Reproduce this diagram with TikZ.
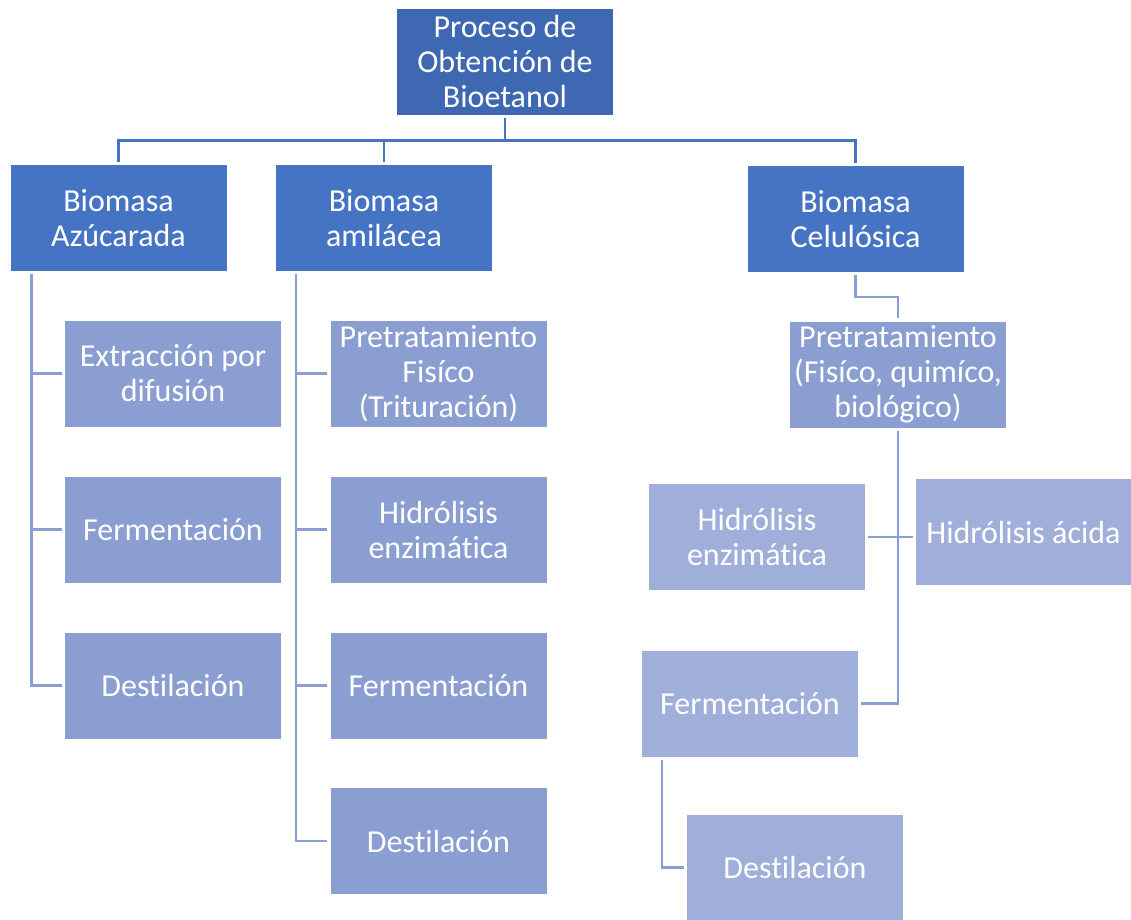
\documentclass[tikz,border=0pt]{standalone}
\usepackage{fontspec}
\setmainfont{Carlito}[Ligatures=NoCommon]
\usetikzlibrary{calc,backgrounds}
\definecolor{topfill}{HTML}{3F68B2}
\definecolor{midfill}{HTML}{4674C4}
\definecolor{lowfill}{HTML}{8A9ED2}
\definecolor{palefill}{HTML}{A0AFDA}
\definecolor{busline}{HTML}{4472C4}
\definecolor{stemline}{HTML}{8A9ED2}
\tikzset{
  box/.style={rectangle, minimum width=216pt, minimum height=106pt, inner sep=0pt,
    align=center, text=white, font=\fontsize{32}{35}\selectfont},
  toplevel/.style={box, fill=topfill},
  midlevel/.style={box, fill=midfill},
  lowlevel/.style={box, fill=lowfill},
  palelevel/.style={box, fill=palefill},
  bus/.style={draw=busline, line width=2.6pt},
  stem/.style={draw=stemline, line width=2.4pt, shorten <=3pt, shorten >=3pt},
}
\begin{document}
\begin{tikzpicture}[x=1pt, y=-1pt]
\useasboundingbox (0,0) rectangle (1131,919);

% top node
\node[toplevel] (top) at (505,62) {Proceso de\\Obtención de\\Bioetanol};

% biomass types
\node[midlevel] (az) at (118.5,218) {Biomasa\\Azúcarada};
\node[midlevel] (am) at (384,218) {Biomasa\\amilácea};
\node[midlevel] (ce) at (855.5,219) {Biomasa\\Celulósica};

% sugar biomass steps
\node[lowlevel] (ex) at (173,373.5) {Extracción por\\difusión};
\node[lowlevel] (fl) at (173,529.5) {Fermentación};
\node[lowlevel] (dl) at (173,685.5) {Destilación};

% starch biomass steps
\node[lowlevel] (pf) at (438.5,373.5) {Pretratamiento\\Fisíco\\(Trituración)};
\node[lowlevel] (hm) at (438.5,529.5) {Hidrólisis\\enzimática};
\node[lowlevel] (fm) at (438.5,685.5) {Fermentación};
\node[lowlevel] (dm) at (438.5,841) {Destilación};

% cellulosic biomass steps
\node[lowlevel] (pr) at (898,374.5) {Pretratamiento\\(Fisíco, quimíco,\\biológico)};
\node[palelevel] (he) at (757,537) {Hidrólisis\\enzimática};
\node[palelevel, minimum width=215pt] (ha) at (1023.5,532) {Hidrólisis ácida};
\node[palelevel] (fr) at (750,703.5) {Fermentación};
\node[palelevel] (dr) at (795,867.5) {Destilación};

\begin{scope}[on background layer]
  % main bus
  \draw[bus, shorten <=3pt] (top.south) -- ++(0,25) coordinate (hub);
  \draw[bus, shorten >=3pt] (hub) -| (az.north);
  \draw[bus, shorten >=3pt] (hub) -| (am.north);
  \draw[bus, shorten >=3pt] (hub) -| (ce.north);

  % sugar biomass branch
  \draw[stem] ($(az.south west)+(21,0)$) |- (ex.west);
  \draw[stem] ($(az.south west)+(21,0)$) |- (fl.west);
  \draw[stem] ($(az.south west)+(21,0)$) |- (dl.west);

  % starch biomass branch
  \draw[stem] ($(am.south west)+(20,0)$) |- (pf.west);
  \draw[stem] ($(am.south west)+(20,0)$) |- (hm.west);
  \draw[stem] ($(am.south west)+(20,0)$) |- (fm.west);
  \draw[stem] ($(am.south west)+(20,0)$) |- (dm.west);

  % cellulosic biomass branch
  \draw[stem] (ce.south) |- ($(ce.south)!.5!(pr.north)$) -| (pr.north);
  \draw[stem] (pr.south) |- (fr.east);
  \draw[stem] (he.east) -- (he.east -| ha.west);
  \draw[stem] ($(fr.south west)+(20,0)$) |- (dr.west);
\end{scope}
\end{tikzpicture}
\end{document}
